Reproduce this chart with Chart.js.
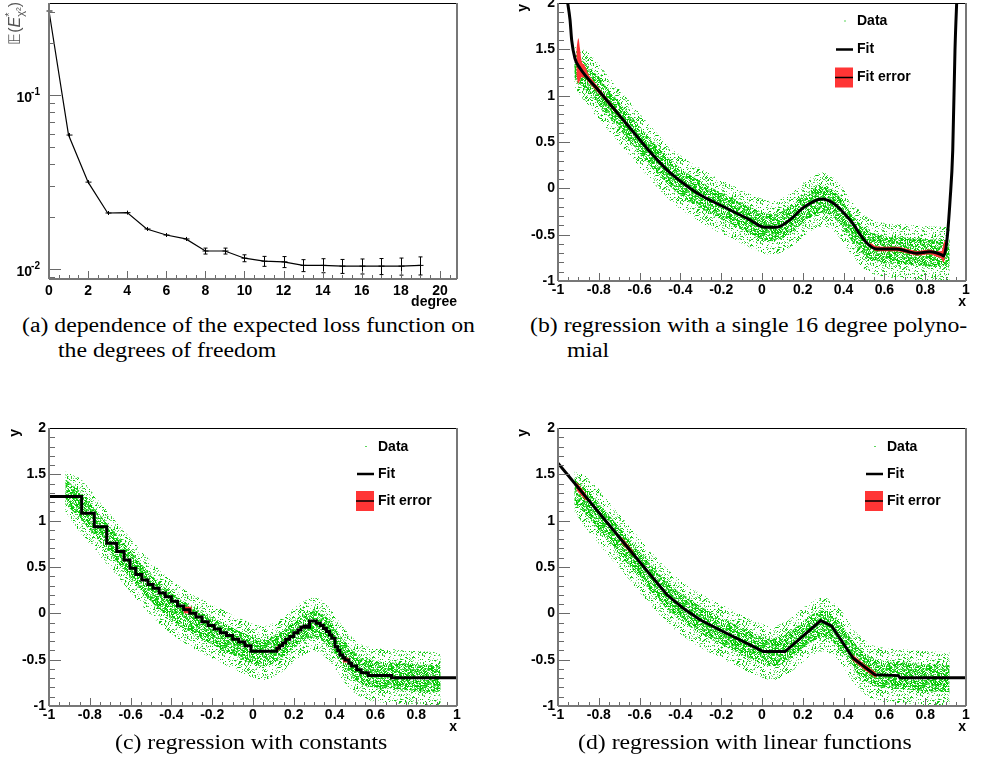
<!DOCTYPE html>
<html>
<head>
<meta charset="utf-8">
<script src="https://cdn.jsdelivr.net/npm/chart.js@4.4.0/dist/chart.umd.min.js"></script>
<style>
  body { margin: 0; background: #fff; width: 997px; height: 768px; overflow: hidden; position: relative; }
  canvas { position: absolute; }
  .cap { position: absolute; white-space: nowrap; font-family: "Liberation Serif", "DejaVu Serif", serif; font-size: 20px; line-height: 24px; color: #000; transform-origin: 0 50%; }
</style>
</head>
<body>
<canvas id="cA" width="498" height="312" style="left:0;top:0"></canvas>
<canvas id="cB" width="499" height="312" style="left:498px;top:0"></canvas>
<canvas id="cC" width="498" height="330" style="left:0;top:412px"></canvas>
<canvas id="cD" width="499" height="330" style="left:498px;top:412px"></canvas>

<div class="cap" data-w="453" style="left:22px;top:313px">(a) dependence of the expected loss function on</div>
<div class="cap" style="left:58px;top:338px">the degrees of freedom</div>
<div class="cap" style="left:530px;top:313px">(b) regression with a single 16 degree polyno-</div>
<div class="cap" style="left:567px;top:338px">mial</div>
<div class="cap" data-cx="251" style="left:135px;top:730px">(c) regression with constants</div>
<div class="cap" data-cx="745" style="left:609px;top:730px">(d) regression with linear functions</div>

<script>
// ---- (a) expected loss vs. degree
const degrees = [0, 1, 2, 3, 4, 5, 6, 7, 8, 9, 10, 11, 12, 13, 14, 15, 16, 17, 18, 19];
const lossValues = [0.304, 0.0589, 0.0316, 0.0210, 0.0211, 0.0170, 0.0157, 0.0149, 0.0127, 0.0127,
  0.01155, 0.0111, 0.0110, 0.0105, 0.0105, 0.0104, 0.0104, 0.0104, 0.0104, 0.0105];
const lossErrors = [0, 0, 0, 0.0001, 0.00015, 0.0002, 0.0003, 0.0004, 0.0005, 0.0005,
  0.00053, 0.00073, 0.0008, 0.00083, 0.00097, 0.00096, 0.00103, 0.0011, 0.00117, 0.00125];
const degreeTicks = [0, 2, 4, 6, 8, 10, 12, 14, 16, 18, 20];
const degreeLabels = ['0', '2', '4', '6', '8', '10', '12', '14', '16', '18', '20'];
const lossTicks = [0.01, 0.1];
const lossLabelExps = ['-2', '-1'];          // drawn as 10 with a raised exponent
const lossMinorTicks = [0.009, 0.02, 0.03, 0.04, 0.05, 0.06, 0.07, 0.08, 0.09, 0.2, 0.3];

// ---- regression panels: axes
const xTicks = [-1, -0.8, -0.6, -0.4, -0.2, 0, 0.2, 0.4, 0.6, 0.8, 1];
const xLabels = ['-1', '-0.8', '-0.6', '-0.4', '-0.2', '0', '0.2', '0.4', '0.6', '0.8', '1'];
const yTicks = [-1, -0.5, 0, 0.5, 1, 1.5, 2];
const yLabels = ['-1', '-0.5', '0', '0.5', '1', '1.5', '2'];

// ---- data cloud (same sample in b, c, d): envelope of the scatter
const cloudX =       [-0.92, -0.85, -0.75, -0.65, -0.55, -0.45, -0.35, -0.25, -0.15, -0.05, 0.05, 0.15, 0.22, 0.30, 0.38, 0.45, 0.52, 0.60, 0.70, 0.80, 0.92];
const cloudOuterHi = [1.53, 1.46, 1.20, 0.94, 0.68, 0.45, 0.28, 0.15, 0.04, -0.07, -0.14, -0.04, 0.09, 0.17, 0.05, -0.17, -0.32, -0.375, -0.39, -0.41, -0.42];
const cloudOuterLo = [1.10, 0.88, 0.62, 0.36, 0.10, -0.13, -0.30, -0.43, -0.54, -0.65, -0.72, -0.62, -0.49, -0.41, -0.53, -0.75, -0.90, -0.955, -0.97, -0.99, -1.0];
const cloudInnerHi = [1.45, 1.32, 1.06, 0.80, 0.54, 0.31, 0.14, 0.01, -0.10, -0.21, -0.28, -0.18, -0.05, 0.03, -0.09, -0.31, -0.46, -0.515, -0.53, -0.55, -0.56];
const cloudInnerLo = [1.18, 1.03, 0.77, 0.51, 0.25, 0.02, -0.15, -0.28, -0.39, -0.50, -0.57, -0.47, -0.34, -0.26, -0.38, -0.60, -0.75, -0.805, -0.82, -0.84, -0.85];

// ---- (b) 16 degree polynomial
const fitBX = [-0.956, -0.941, -0.933, -0.917, -0.892, -0.8, -0.7, -0.6, -0.557, -0.466, -0.386, -0.304, -0.206, -0.059, 0.005, 0.072, 0.137, 0.202, 0.292, 0.35, 0.431, 0.514, 0.563, 0.661, 0.759, 0.823, 0.881, 0.89, 0.905, 0.922, 0.935, 0.946, 0.956];
const fitBY = [2.05, 1.817, 1.60, 1.403, 1.296, 1.053, 0.79, 0.527, 0.414, 0.20, 0.055, -0.07, -0.18, -0.341, -0.416, -0.42, -0.34, -0.21, -0.114, -0.16, -0.34, -0.59, -0.655, -0.655, -0.70, -0.685, -0.718, -0.73, -0.59, -0.125, 0.41, 1.49, 2.1];
// fit error bands [x, lo, hi]
const fitErrorB = [
  [[-0.91, 1.22, 1.50], [-0.90, 1.13, 1.62], [-0.893, 1.16, 1.52], [-0.885, 1.20, 1.38], [-0.87, 1.20, 1.33], [-0.85, 1.145, 1.225],
   [-0.82, 1.07, 1.14], [-0.78, 0.975, 1.03], [-0.74, 0.87, 0.92], [-0.70, 0.77, 0.81], [-0.66, 0.67, 0.70]],
  [[0.53, -0.635, -0.585], [0.56, -0.675, -0.625], [0.60, -0.68, -0.63], [0.66, -0.68, -0.63], [0.72, -0.707, -0.657], [0.76, -0.725, -0.675],
   [0.82, -0.71, -0.66], [0.86, -0.74, -0.68], [0.88, -0.76, -0.68], [0.89, -0.80, -0.60], [0.90, -0.70, -0.55]]
];

// ---- (c) piecewise constants: value holds from x[i] to x[i+1]
const stepX = [-1, -0.84, -0.778, -0.717, -0.668, -0.632, -0.603, -0.575, -0.545, -0.515, -0.49, -0.46, -0.43, -0.40, -0.37, -0.34, -0.31, -0.28, -0.25, -0.22, -0.19, -0.16, -0.13, -0.10, -0.07, -0.04, -0.01,
  0.116, 0.13, 0.145, 0.16, 0.18, 0.20, 0.22, 0.235, 0.25, 0.265, 0.277, 0.31, 0.33, 0.345, 0.36, 0.375, 0.386, 0.402, 0.415, 0.426, 0.44, 0.451, 0.47, 0.483, 0.508, 0.53, 0.565, 0.679, 1];
const stepY = [1.26, 1.08, 0.935, 0.756, 0.666, 0.576, 0.486, 0.42, 0.36, 0.31, 0.27, 0.22, 0.18, 0.13, 0.08, 0.04, 0.00, -0.04, -0.09, -0.13, -0.17, -0.21, -0.24, -0.28, -0.31, -0.35, -0.41,
  -0.377, -0.35, -0.32, -0.28, -0.25, -0.21, -0.18, -0.15, -0.136, -0.15, -0.082, -0.107, -0.13, -0.165, -0.197, -0.235, -0.27, -0.36, -0.40, -0.449, -0.48, -0.503, -0.54, -0.567, -0.61, -0.64, -0.672, -0.694, -0.694];
const fitErrorC = [
  [[-0.34, 0.0, 0.07], [-0.30, 0.0, 0.07]],
  [[0.116, -0.40, -0.355], [0.13, -0.40, -0.355]],
  [[0.44, -0.53, -0.48], [0.47, -0.53, -0.48]]
];

// ---- (d) piecewise linear
const fitDX = [-1, -0.574, -0.466, -0.386, -0.304, -0.206, -0.059, 0.006, 0.113, 0.288, 0.341, 0.447, 0.554, 0.668, 0.676, 1];
const fitDY = [1.62, 0.486, 0.20, 0.055, -0.07, -0.18, -0.341, -0.413, -0.413, -0.079, -0.136, -0.485, -0.664, -0.672, -0.694, -0.694];
const fitErrorD = [
  [[-0.91, 1.33, 1.42], [-0.86, 1.21, 1.28]],
  [[-0.69, 0.76, 0.83], [-0.63, 0.61, 0.67]],
  [[0.44, -0.50, -0.44], [0.50, -0.605, -0.545], [0.56, -0.70, -0.64]]
];

const SANS = '"Liberation Sans", Arial, Helvetica, sans-serif';
const tickFont = { family: SANS, size: 14, weight: 'bold' };
const RED = '#ff3535';

function range(a, b, step) {
  const out = [];
  for (let v = a; v <= b + 1e-9; v += step) out.push(Math.round(v * 1000) / 1000);
  return out;
}

// speckle texture used to paint the scatter cloud
function speckle(count, palette, seed) {
  const c = document.createElement('canvas');
  c.width = 40; c.height = 40;
  const g = c.getContext('2d');
  let s = seed;
  for (let i = 0; i < count; i++) {
    s = (s * 16807) % 2147483647;
    const px = s % 40;
    s = (s * 16807) % 2147483647;
    const py = s % 40;
    g.fillStyle = palette[i % palette.length];
    g.fillRect(px, py, 1, 1);
  }
  return g.createPattern(c, 'repeat');
}
const cloudOuterFill = speckle(420, ['#3cd23c', '#8ce48c', '#14c814', '#6ede6e', '#00c800'], 12345);
const cloudInnerFill = speckle(1500, ['#10c810', '#00c000', '#3cd83c', '#88e488', '#1ed21e', '#00d000', '#5cdc5c'], 67891);

function axis(type, min, max, size, ticks, labels, pad) {
  return {
    type, min, max,
    grid: { display: false, drawTicks: false },
    border: { display: false },
    ticks: { font: tickFont, color: '#000', padding: pad, autoSkip: false, maxRotation: 0,
      callback: (v, i) => labels ? labels[i] : '' },
    afterBuildTicks: s => { s.ticks = ticks.map(v => ({ value: v })); },
    afterFit: s => {
      if (s.isHorizontal()) s.height = size; else s.width = size;
      s.paddingLeft = s.paddingRight = s.paddingTop = s.paddingBottom = 0;
    }
  };
}

function line(ctx, x1, y1, x2, y2) {
  ctx.beginPath(); ctx.moveTo(x1, y1); ctx.lineTo(x2, y2); ctx.stroke();
}

const rootFrame = {
  id: 'rootFrame',
  afterDraw(chart, _args, o) {
    const { ctx, chartArea: a, scales } = chart;
    const sx = scales.x, sy = scales.y;
    ctx.save();

    if (o.errors) {
      ctx.strokeStyle = '#000'; ctx.lineWidth = 1;
      o.errors.x.forEach((xv, i) => {
        const yv = o.errors.y[i], e = o.errors.e[i];
        const px = Math.round(sx.getPixelForValue(xv)) + 0.5;
        const py = sy.getPixelForValue(yv);
        const top = Math.min(sy.getPixelForValue(yv + e), py - 2);
        const bot = Math.max(sy.getPixelForValue(yv - e), py + 2);
        line(ctx, px - 3, py, px + 3, py);
        line(ctx, px, top, px, bot);
        if (bot - top > 5) {
          line(ctx, px - 2, top, px + 2, top);
          line(ctx, px - 2, bot, px + 2, bot);
        }
      });
    }

    // tick marks point into the frame
    ctx.strokeStyle = '#6a6a6a'; ctx.lineWidth = 1;
    const marks = (scale, values, len) => values.forEach(v => {
      const p = Math.round(scale.getPixelForValue(v)) + 0.5;
      if (scale.isHorizontal()) line(ctx, p, a.bottom, p, a.bottom - len);
      else line(ctx, a.left, p, a.left + len, p);
    });
    marks(sx, o.xMinor, 4); marks(sx, o.xMajor, 8);
    marks(sy, o.yMinor, 6); marks(sy, o.yMajor, 12);

    // frame
    ctx.strokeStyle = '#000'; ctx.lineWidth = 1;
    line(ctx, a.left, a.top + 0.5, a.right, a.top + 0.5);
    ctx.strokeStyle = '#777'; ctx.lineWidth = 2;
    line(ctx, a.left, a.top, a.left, a.bottom);
    line(ctx, a.right, a.top, a.right, a.bottom);
    line(ctx, a.left, a.bottom, a.right, a.bottom);

    // power-of-ten labels on the log axis
    if (o.powerLabels) {
      ctx.fillStyle = '#000'; ctx.textBaseline = 'middle'; ctx.textAlign = 'right';
      o.powerLabels.values.forEach((v, i) => {
        const p = sy.getPixelForValue(v);
        ctx.font = 'bold 10px ' + SANS;
        const ew = ctx.measureText(o.powerLabels.exps[i]).width;
        ctx.fillText(o.powerLabels.exps[i], a.left - 9, p - 3);
        ctx.font = 'bold 14px ' + SANS;
        ctx.fillText('10', a.left - 9 - ew + 1, p + 3);
      });
    }

    // axis titles
    ctx.fillStyle = '#000';
    ctx.font = 'bold 14px ' + SANS;
    ctx.textAlign = 'right'; ctx.textBaseline = 'middle';
    ctx.fillText(o.xTitle, a.right, a.bottom + o.xTitleDy);
    if (o.yTitle) {
      ctx.save();
      ctx.translate(a.left - o.yTitleDx, a.top);
      ctx.rotate(-Math.PI / 2);
      ctx.fillText(o.yTitle, -1, 0);
      ctx.restore();
    }
    if (o.yTitleParts) {
      ctx.save();
      ctx.fillStyle = '#555';
      ctx.translate(16, a.top - 1);
      ctx.rotate(-Math.PI / 2);
      ctx.textAlign = 'left'; ctx.textBaseline = 'middle';
      let total = 0;
      const widths = o.yTitleParts.map(p => { ctx.font = p.font + ' ' + SANS; return ctx.measureText(p.t).width; });
      o.yTitleParts.forEach((p, i) => { if (!p.stack) total += widths[i]; });
      let xPos = -total;
      o.yTitleParts.forEach((p, i) => {
        ctx.font = p.font + ' ' + SANS;
        ctx.fillText(p.t, xPos, p.dy);
        if (!p.stack) xPos += widths[i];
      });
      ctx.restore();
    }

    // legend
    if (o.legend) {
      const lx = a.left + o.legend.dx;
      const rows = o.legend.rows.map(r => a.top + r);
      ctx.font = 'bold 14px ' + SANS;
      ctx.textAlign = 'left'; ctx.textBaseline = 'middle'; ctx.fillStyle = '#000';
      ctx.fillText('Data', lx, rows[0]);
      ctx.fillText('Fit', lx, rows[1]);
      ctx.fillText('Fit error', lx, rows[2]);
      ctx.fillStyle = '#5ad65a';
      ctx.fillRect(lx - 13, rows[0] - 1, 2, 1);
      ctx.strokeStyle = '#000'; ctx.lineWidth = 2.5;
      line(ctx, lx - 21, rows[1], lx - 4, rows[1]);
      ctx.fillStyle = RED;
      ctx.fillRect(lx - 22, rows[2] - 10, 18, 20);
      ctx.lineWidth = 1.5;
      line(ctx, lx - 22, rows[2], lx - 4, rows[2]);
    }
    ctx.restore();
  }
};
Chart.register(rootFrame);

const common = {
  responsive: false, animation: false, events: [],
  plugins: { legend: { display: false }, tooltip: { enabled: false } }
};

// ---------- (a)
new Chart(document.getElementById('cA'), {
  type: 'line',
  data: { datasets: [{
    data: degrees.map((d, i) => ({ x: d, y: lossValues[i] })),
    borderColor: '#000', borderWidth: 1.2, pointRadius: 0, fill: false, tension: 0
  }] },
  options: {
    ...common,
    layout: { padding: { top: 3, right: 41, left: 0, bottom: 0 } },
    plugins: { ...common.plugins, rootFrame: {
      errors: { x: degrees, y: lossValues, e: lossErrors },
      xMajor: degreeTicks, xMinor: range(0, 20.5, 0.5),
      yMajor: lossTicks, yMinor: lossMinorTicks,
      powerLabels: { values: lossTicks, exps: lossLabelExps },
      xTitle: 'degree', xTitleDy: 23,
      yTitleParts: [
        { t: '\uD835\uDD3C(', font: '16px', dy: 0 },
        { t: 'E', font: 'italic 16px', dy: 0 },
        { t: '*', font: '11px', dy: -6, stack: true },
        { t: '\u03C7\u00B2', font: '11px', dy: 5 },
        { t: ')', font: '16px', dy: 0 }
      ]
    } },
    scales: {
      x: axis('linear', 0, 20.87, 33, degreeTicks, degreeLabels, 4),
      y: axis('logarithmic', 0.00877, 0.338, 49, lossTicks, null, 9)
    }
  }
});

// ---------- helpers for regression panels
const pts = (xs, ys) => xs.map((x, i) => ({ x, y: ys[i] }));

function cloudSets() {
  return [
    { data: pts(cloudX, cloudInnerHi), borderColor: 'transparent', borderWidth: 0, pointRadius: 0,
      fill: '+1', backgroundColor: cloudInnerFill, cubicInterpolationMode: 'monotone', order: 8 },
    { data: pts(cloudX, cloudInnerLo), borderColor: 'transparent', borderWidth: 0, pointRadius: 0,
      fill: false, cubicInterpolationMode: 'monotone', order: 8 },
    { data: pts(cloudX, cloudOuterHi), borderColor: 'transparent', borderWidth: 0, pointRadius: 0,
      fill: '+1', backgroundColor: cloudOuterFill, cubicInterpolationMode: 'monotone', order: 9 },
    { data: pts(cloudX, cloudOuterLo), borderColor: 'transparent', borderWidth: 0, pointRadius: 0,
      fill: false, cubicInterpolationMode: 'monotone', order: 9 }
  ];
}

function bandSets(segments, mode) {
  const out = [];
  segments.forEach(seg => {
    const xs = seg.map(p => p[0]);
    out.push({ data: pts(xs, seg.map(p => p[2])), borderColor: 'transparent', borderWidth: 0, pointRadius: 0,
      fill: '+1', backgroundColor: RED, cubicInterpolationMode: mode, order: 2 });
    out.push({ data: pts(xs, seg.map(p => p[1])), borderColor: 'transparent', borderWidth: 0, pointRadius: 0,
      fill: false, cubicInterpolationMode: mode, order: 2 });
  });
  return out;
}

function regressionPanel(id, leftW, rightPad, topPad, bottomH, xPad, fitSet, bands, legend, yTitleDx, xTitleDy) {
  new Chart(document.getElementById(id), {
    type: 'line',
    data: { datasets: [fitSet, ...bands, ...cloudSets()] },
    options: {
      ...common,
      layout: { padding: { top: topPad, right: rightPad, left: 0, bottom: 0 } },
      plugins: { ...common.plugins, rootFrame: {
        xMajor: xTicks, xMinor: range(-1, 1, 0.05),
        yMajor: yTicks, yMinor: range(-1, 2, 0.1),
        xTitle: 'x', xTitleDy: xTitleDy, yTitle: 'y', yTitleDx: yTitleDx,
        legend
      } },
      scales: {
        x: axis('linear', -1, 1, bottomH, xTicks, xLabels, xPad),
        y: axis('linear', -1, 2, leftW, yTicks, yLabels, 3)
      }
    }
  });
}

// ---------- (b)
regressionPanel('cB', 60, 31, 3, 31, 1,
  { data: pts(fitBX, fitBY), borderColor: '#000', borderWidth: 3, pointRadius: 0, fill: false,
    cubicInterpolationMode: 'monotone', order: 0 },
  bandSets(fitErrorB, 'monotone'),
  { dx: 299, rows: [18.5, 46.5, 74.5] }, 35, 21);

// ---------- (c)
regressionPanel('cC', 49, 41, 16, 36, 1,
  { data: pts(stepX, stepY), borderColor: '#000', borderWidth: 3, pointRadius: 0, fill: false,
    stepped: 'before', borderJoinStyle: 'miter', order: 0 },
  bandSets(fitErrorC, 'default'),
  { dx: 329, rows: [19, 46, 73] }, 34, 21);

// ---------- (d)
regressionPanel('cD', 60, 31, 16, 36, 1,
  { data: pts(fitDX, fitDY), borderColor: '#000', borderWidth: 3, pointRadius: 0, fill: false,
    tension: 0, order: 0 },
  bandSets(fitErrorD, 'default'),
  { dx: 329, rows: [19, 46, 73] }, 35, 21);

// captions: one common horizontal stretch, taken from the first line
function fitCaptions() {
  const caps = document.querySelectorAll('.cap');
  const ref = caps[0];
  const k = Number(ref.dataset.w) / ref.getBoundingClientRect().width;
  caps.forEach(el => {
    const w = el.getBoundingClientRect().width;
    el.style.transform = 'scaleX(' + k + ')';
    if (el.dataset.cx) el.style.left = (Number(el.dataset.cx) - w * k / 2) + 'px';
  });
}
if (document.fonts && document.fonts.ready) document.fonts.ready.then(fitCaptions); else fitCaptions();
</script>
</body>
</html>
